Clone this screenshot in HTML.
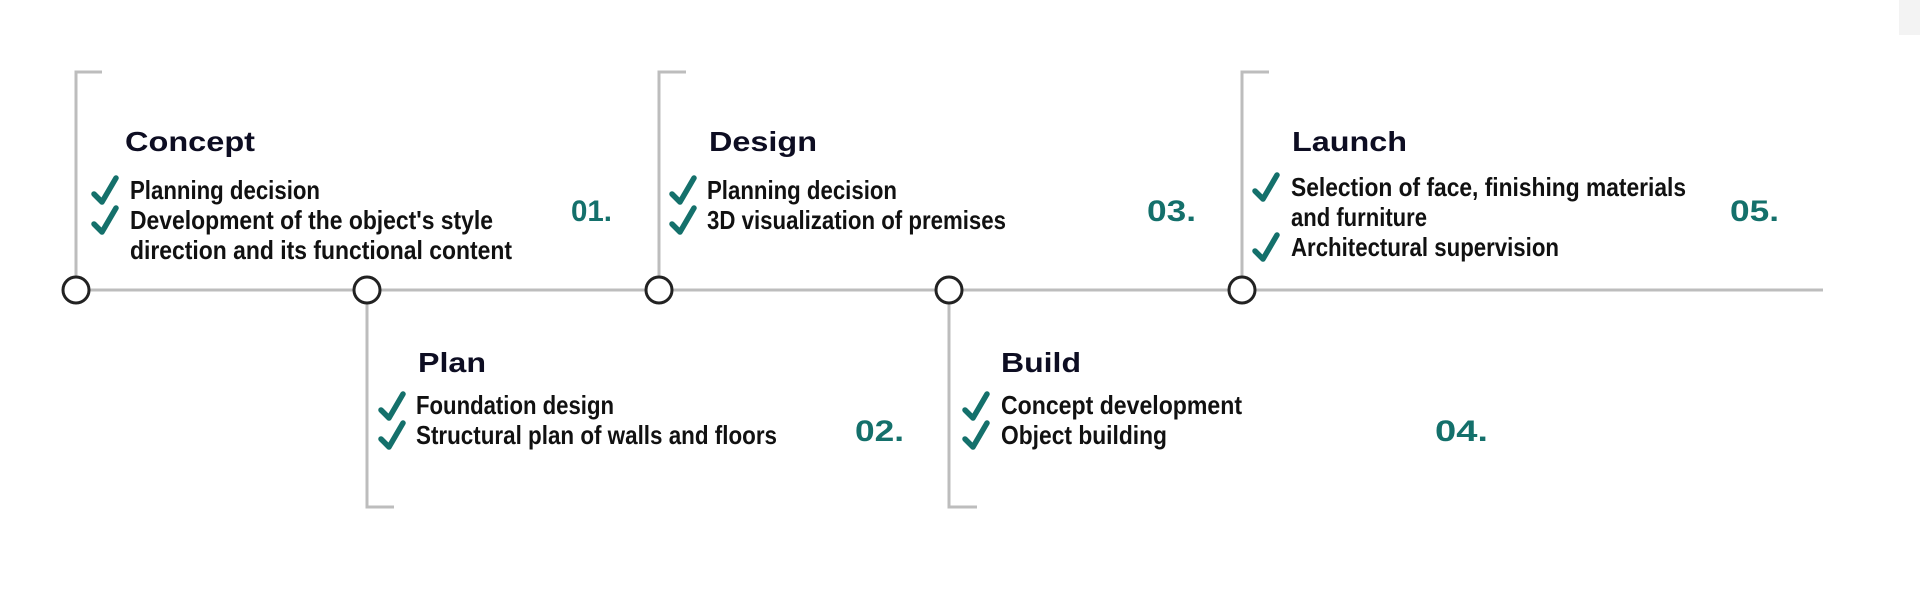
<!DOCTYPE html>
<html><head><meta charset="utf-8"><style>
html,body{margin:0;padding:0;background:#fff;}
svg{display:block;}
.t{font-family:"Liberation Sans",sans-serif;font-weight:bold;fill:#0d0d22;font-size:28px;}
.i{font-family:"Liberation Sans",sans-serif;font-weight:bold;fill:#111;font-size:26px;}
.n{font-family:"Liberation Sans",sans-serif;font-weight:bold;fill:#14706b;font-size:30px;}
.ck{fill:none;stroke:#14706b;stroke-width:5.5;stroke-linecap:round;stroke-linejoin:round;}
.br{fill:none;stroke:#bdbdbd;stroke-width:3;}
</style></head><body>
<svg width="1920" height="591" viewBox="0 0 1920 591" xmlns="http://www.w3.org/2000/svg">
<defs>
<path id="ck" class="ck" d="M0,8 L8,16 L22,-8"/>
</defs>
<rect x="1899" y="0" width="21" height="35" fill="#f3f3f3"/>
<line x1="76" y1="290" x2="1823" y2="290" stroke="#bdbdbd" stroke-width="3"/>
<polyline class="br" points="102,72 76,72 76,290"/>
<polyline class="br" points="686,72 659,72 659,290"/>
<polyline class="br" points="1269,72 1242,72 1242,290"/>
<polyline class="br" points="367,290 367,507 394,507"/>
<polyline class="br" points="949,290 949,507 977,507"/>
<g fill="#fff" stroke="#222" stroke-width="3">
<circle cx="76" cy="290" r="13"/>
<circle cx="367" cy="290" r="13"/>
<circle cx="659" cy="290" r="13"/>
<circle cx="949" cy="290" r="13"/>
<circle cx="1242" cy="290" r="13"/>
</g>
<text class="t" x="125" y="151" textLength="130" lengthAdjust="spacingAndGlyphs">Concept</text>
<text class="t" x="709" y="151" textLength="108" lengthAdjust="spacingAndGlyphs">Design</text>
<text class="t" x="1292" y="151" textLength="115" lengthAdjust="spacingAndGlyphs">Launch</text>
<text class="t" x="418" y="372" textLength="68" lengthAdjust="spacingAndGlyphs">Plan</text>
<text class="t" x="1001" y="372" textLength="80" lengthAdjust="spacingAndGlyphs">Build</text>
<text class="n" x="571" y="221" textLength="41" lengthAdjust="spacingAndGlyphs">01.</text>
<text class="n" x="855" y="441" textLength="49" lengthAdjust="spacingAndGlyphs">02.</text>
<text class="n" x="1147" y="221" textLength="49" lengthAdjust="spacingAndGlyphs">03.</text>
<text class="n" x="1435" y="441" textLength="53" lengthAdjust="spacingAndGlyphs">04.</text>
<text class="n" x="1730" y="221" textLength="49" lengthAdjust="spacingAndGlyphs">05.</text>
<use href="#ck" x="94" y="186"/>
<use href="#ck" x="94" y="216"/>
<text class="i" x="130" y="199" textLength="190" lengthAdjust="spacingAndGlyphs">Planning decision</text>
<text class="i" x="130" y="229" textLength="363" lengthAdjust="spacingAndGlyphs">Development of the object's style</text>
<text class="i" x="130" y="259" textLength="382" lengthAdjust="spacingAndGlyphs">direction and its functional content</text>
<use href="#ck" x="672" y="186"/>
<use href="#ck" x="672" y="216"/>
<text class="i" x="707" y="199" textLength="190" lengthAdjust="spacingAndGlyphs">Planning decision</text>
<text class="i" x="707" y="229" textLength="299" lengthAdjust="spacingAndGlyphs">3D visualization of premises</text>
<use href="#ck" x="1255" y="183"/>
<use href="#ck" x="1255" y="243"/>
<text class="i" x="1291" y="196" textLength="395" lengthAdjust="spacingAndGlyphs">Selection of face, finishing materials</text>
<text class="i" x="1291" y="226" textLength="136" lengthAdjust="spacingAndGlyphs">and furniture</text>
<text class="i" x="1291" y="256" textLength="268" lengthAdjust="spacingAndGlyphs">Architectural supervision</text>
<use href="#ck" x="381" y="402"/>
<use href="#ck" x="381" y="431"/>
<text class="i" x="416" y="414" textLength="198" lengthAdjust="spacingAndGlyphs">Foundation design</text>
<text class="i" x="416" y="444" textLength="361" lengthAdjust="spacingAndGlyphs">Structural plan of walls and floors</text>
<use href="#ck" x="965" y="402"/>
<use href="#ck" x="965" y="431"/>
<text class="i" x="1001" y="414" textLength="241" lengthAdjust="spacingAndGlyphs">Concept development</text>
<text class="i" x="1001" y="444" textLength="166" lengthAdjust="spacingAndGlyphs">Object building</text>
</svg>
</body></html>
